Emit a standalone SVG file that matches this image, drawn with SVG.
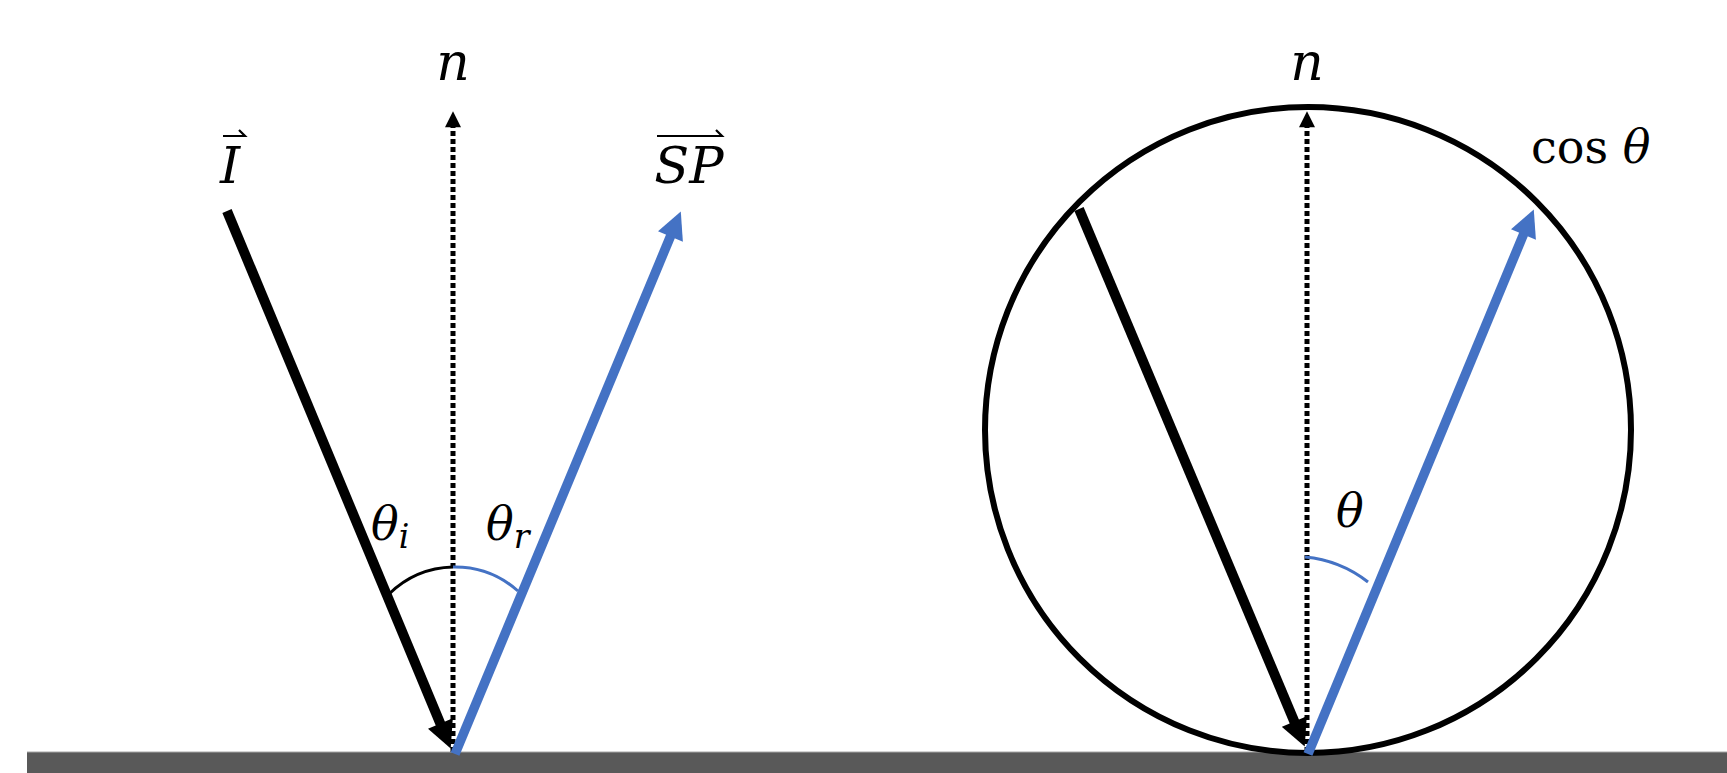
<svg xmlns="http://www.w3.org/2000/svg" width="1727" height="773" viewBox="0 0 1727 773">
<style>
.lbl{font-family:"DejaVu Serif","Liberation Serif",serif;font-style:italic;fill:#000}
.up{font-style:normal}
.blk{stroke:#000;stroke-width:10;fill:none}
.blu{stroke:#4472C4;stroke-width:9.5;fill:none}
.dot{stroke:#000;stroke-width:5;stroke-dasharray:5 3;fill:none}
.arcb{stroke:#000;stroke-width:3;fill:none}
.arcu{stroke:#4472C4;stroke-width:3;fill:none}
.harp{fill:none;stroke:#000;stroke-width:2.2}
</style>
<defs>
<marker id="hb" viewBox="0 0 10 10" refX="3.93" refY="5" markerWidth="28" markerHeight="27" markerUnits="userSpaceOnUse" orient="auto"><path d="M0,0 L10,5 L0,10 z" fill="#000"/></marker>
<marker id="hu" viewBox="0 0 10 10" refX="3.93" refY="5" markerWidth="28" markerHeight="27" markerUnits="userSpaceOnUse" orient="auto"><path d="M0,0 L10,5 L0,10 z" fill="#4472C4"/></marker>
<marker id="hn" viewBox="0 0 10 10" refX="2" refY="5" markerWidth="17" markerHeight="16" markerUnits="userSpaceOnUse" orient="auto"><path d="M0,0 L10,5 L0,10 z" fill="#000"/></marker>
</defs>
<rect width="1727" height="773" fill="#fff"/>
<g id="ground">
<rect x="27" y="752" width="1700" height="21" fill="#595959"/>
<line x1="27" y1="752" x2="1727" y2="752" stroke="#a6a6a6" stroke-width="1"/>
</g>
<g id="circle">
<circle cx="1308" cy="430" r="323" fill="none" stroke="#000" stroke-width="6"/>
</g>
<g id="connectors">
<path class="dot" d="M453,752 V124" marker-end="url(#hn)"/>
<path class="blk" d="M227,211 L444.4,733.3" marker-end="url(#hb)"/>
<path class="blu" d="M455,754 L674.5,226.7" marker-end="url(#hu)"/>
<path class="arcb" d="M389,594 A95,95 0 0 1 453,567"/>
<path class="arcu" d="M453,567 A95,95 0 0 1 518,591"/>
<path class="dot" d="M1307,752 V124" marker-end="url(#hn)"/>
<path class="blk" d="M1079,209 L1298.4,731.3" marker-end="url(#hb)"/>
<path class="blu" d="M1308,754 L1527.5,224.7" marker-end="url(#hu)"/>
<path class="arcu" d="M1305,557 A120,120 0 0 1 1368,582"/>
</g>
<g id="label-n1"><text class="lbl" x="453" y="80" font-size="52" text-anchor="middle">n</text></g>
<g id="label-I">
<text class="lbl" x="230" y="183" font-size="51" text-anchor="middle">I</text>
<path class="harp" d="M223,136 H245 L239,130"/>
</g>
<g id="label-SP">
<text class="lbl" x="689" y="183" font-size="51" text-anchor="middle">SP</text>
<path class="harp" d="M657,136 H722 L716,130"/>
</g>
<g id="label-thi"><text class="lbl" x="371" y="540" font-size="46">θ<tspan font-size="33" dy="8">i</tspan></text></g>
<g id="label-thr"><text class="lbl" x="486" y="540" font-size="46">θ<tspan font-size="33" dy="8">r</tspan></text></g>
<g id="label-n2"><text class="lbl" x="1307" y="80" font-size="52" text-anchor="middle">n</text></g>
<g id="label-cos"><text class="lbl" x="1531" y="163" font-size="46"><tspan class="up">cos</tspan> θ</text></g>
<g id="label-th"><text class="lbl" x="1336" y="527" font-size="46">θ</text></g>
</svg>
